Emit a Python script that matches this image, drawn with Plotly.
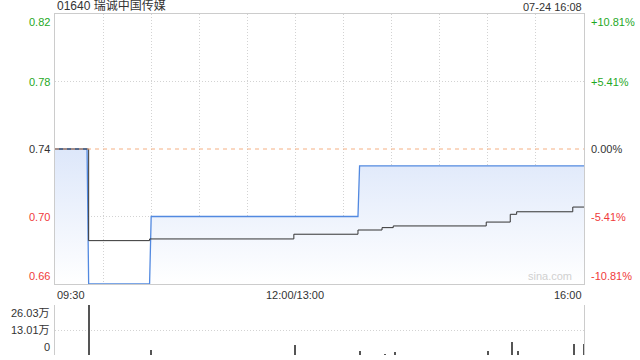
import plotly.graph_objects as go

# ---- data ----
stock_title = "01640 瑞诚中国传媒"
stamp = "07-24 16:08"
prev_close = 0.74

# minutes since 09:30 (trading minutes, lunch break removed); 330 = 16:00
price_t = [0, 20, 21, 59, 60, 189, 190, 330]
price_v = [0.74, 0.74, 0.66, 0.66, 0.70, 0.70, 0.73, 0.73]

avg_t = [0, 20, 21, 59, 149, 189, 204, 211, 269, 284, 288, 323, 330]
avg_v = [0.74, 0.74, 0.6857, 0.6867, 0.6895, 0.692, 0.6934, 0.6944, 0.6967,
         0.7013, 0.7028, 0.7056, 0.7056]

vol_t = [21, 60, 150, 190, 206, 212, 270, 285, 289, 324, 330]
vol_v = [26.03, 2.6, 5.2, 2.1, 0.5, 1.5, 2.1, 6.8, 2.1, 5.7, 5.7]  # 万

price_ticks = [0.82, 0.78, 0.74, 0.70, 0.66]
pct_labels = ["+10.81%", "+5.41%", "0.00%", "-5.41%", "-10.81%"]
vol_ticks = [26.03, 13.01, 0]
vol_labels = ["26.03万", "13.01万", "0"]
x_ticks = [0, 150, 330]
x_labels = ["09:30", "12:00/13:00", "16:00"]

GREEN = "#1fa81f"
RED = "#f03a3a"
DARK = "#333333"
FONT = "Liberation Sans, Arial, Noto Sans CJK SC, sans-serif"

def col(v):
    if abs(v - prev_close) < 1e-9:
        return DARK
    return GREEN if v > prev_close else RED

fig = go.Figure()
fig.add_trace(go.Scatter(
    x=price_t, y=price_v, mode="lines", line=dict(color="#5289e0", width=1.3),
    fill="tozeroy",
    fillgradient=dict(type="vertical", start=0.66, stop=0.74,
                      colorscale=[[0, "rgba(255,255,255,1)"], [1, "#dde7fa"]]),
    xaxis="x", yaxis="y", hoverinfo="skip"))
fig.add_trace(go.Scatter(
    x=avg_t, y=avg_v, mode="lines", line=dict(color="#333333", width=1, shape="hv"),
    xaxis="x", yaxis="y", hoverinfo="skip"))
fig.add_trace(go.Bar(
    x=vol_t, y=vol_v, width=0.7, marker=dict(color="#555555", line=dict(width=0)),
    xaxis="x2", yaxis="y2", hoverinfo="skip"))

grid = "#d3d3d3"
border = "#cccccc"
GD = "1px,2px"
fig.update_layout(
    width=640, height=360, showlegend=False,
    margin=dict(l=55, r=56, t=14, b=5),
    paper_bgcolor="white", plot_bgcolor="white",
    font=dict(family=FONT, size=11, color=DARK),
    xaxis=dict(domain=[0, 1], range=[0, 330], tickvals=list(range(0, 331, 30)),
               showticklabels=False, ticks="", showgrid=True, gridcolor=grid,
               griddash=GD, gridwidth=1, showline=True, linecolor=border,
               mirror=True, zeroline=False, anchor="y"),
    yaxis=dict(domain=[0.2082, 1], range=[0.66, 0.82], tickvals=[0.70, 0.78],
               showticklabels=False, ticks="", showgrid=True, gridcolor=grid,
               griddash=GD, showline=True, linecolor=border, mirror=True,
               zeroline=False, anchor="x"),
    xaxis2=dict(domain=[0, 1], range=[0, 330], showticklabels=False, ticks="",
                showgrid=False, showline=False, zeroline=False, anchor="y2",
                matches="x"),
    yaxis2=dict(domain=[0, 0.1466], range=[0, 26.03], tickvals=vol_ticks,
                showticklabels=False, ticks="", showgrid=True, gridcolor=grid,
                griddash=GD, showline=True, linecolor=border, mirror=True,
                zeroline=False, anchor="x2"),
    bargap=0,
)

fig.add_shape(type="line", xref="x domain", yref="y", x0=0, x1=1,
              y0=prev_close, y1=prev_close,
              line=dict(color="#f5b083", width=1, dash="4px,4px"))

ann = []
ann.append(dict(text=stock_title, xref="paper", yref="paper", x=0, y=1,
                xanchor="left", yanchor="bottom", showarrow=False,
                font=dict(size=12, color=DARK), yshift=-1))
ann.append(dict(text=stamp, xref="paper", yref="paper", x=1, y=1,
                xanchor="right", yanchor="bottom", showarrow=False,
                font=dict(size=11, color=DARK), yshift=-1))
n = len(price_ticks)
for i, (v, p) in enumerate(zip(price_ticks, pct_labels)):
    ya = "top" if i == 0 else ("bottom" if i == n - 1 else "middle")
    c = col(v)
    ann.append(dict(text=f"{v:.2f}", xref="paper", yref="y", x=0, y=v,
                    xanchor="right", yanchor=ya, xshift=-3, showarrow=False,
                    font=dict(size=11, color=c)))
    ann.append(dict(text=p, xref="paper", yref="y", x=1, y=v,
                    xanchor="left", yanchor=ya, xshift=5, showarrow=False,
                    font=dict(size=11, color=c)))
for i, (v, t) in enumerate(zip(vol_ticks, vol_labels)):
    ya = "top" if i == 0 else ("bottom" if i == len(vol_ticks) - 1 else "middle")
    ann.append(dict(text=t, xref="paper", yref="y2", x=0, y=v,
                    xanchor="right", yanchor=ya, xshift=-3, showarrow=False,
                    font=dict(size=11, color=DARK)))
for i, (v, t) in enumerate(zip(x_ticks, x_labels)):
    xa = "left" if i == 0 else ("right" if i == len(x_ticks) - 1 else "center")
    ann.append(dict(text=t, xref="x", yref="y", x=v, y=0.66,
                    xanchor=xa, yanchor="top", yshift=-3, showarrow=False,
                    font=dict(size=11, color=DARK)))
ann.append(dict(text="sina.com", xref="paper", yref="y", x=1, y=0.66,
                xanchor="right", yanchor="bottom", xshift=-10, showarrow=False,
                font=dict(size=11, color="#d0d0d0")))
fig.update_layout(annotations=ann)

fig.write_html("out.html", config={"displayModeBar": False},
               post_script="document.body.style.margin='0';document.body.style.padding='0';")
